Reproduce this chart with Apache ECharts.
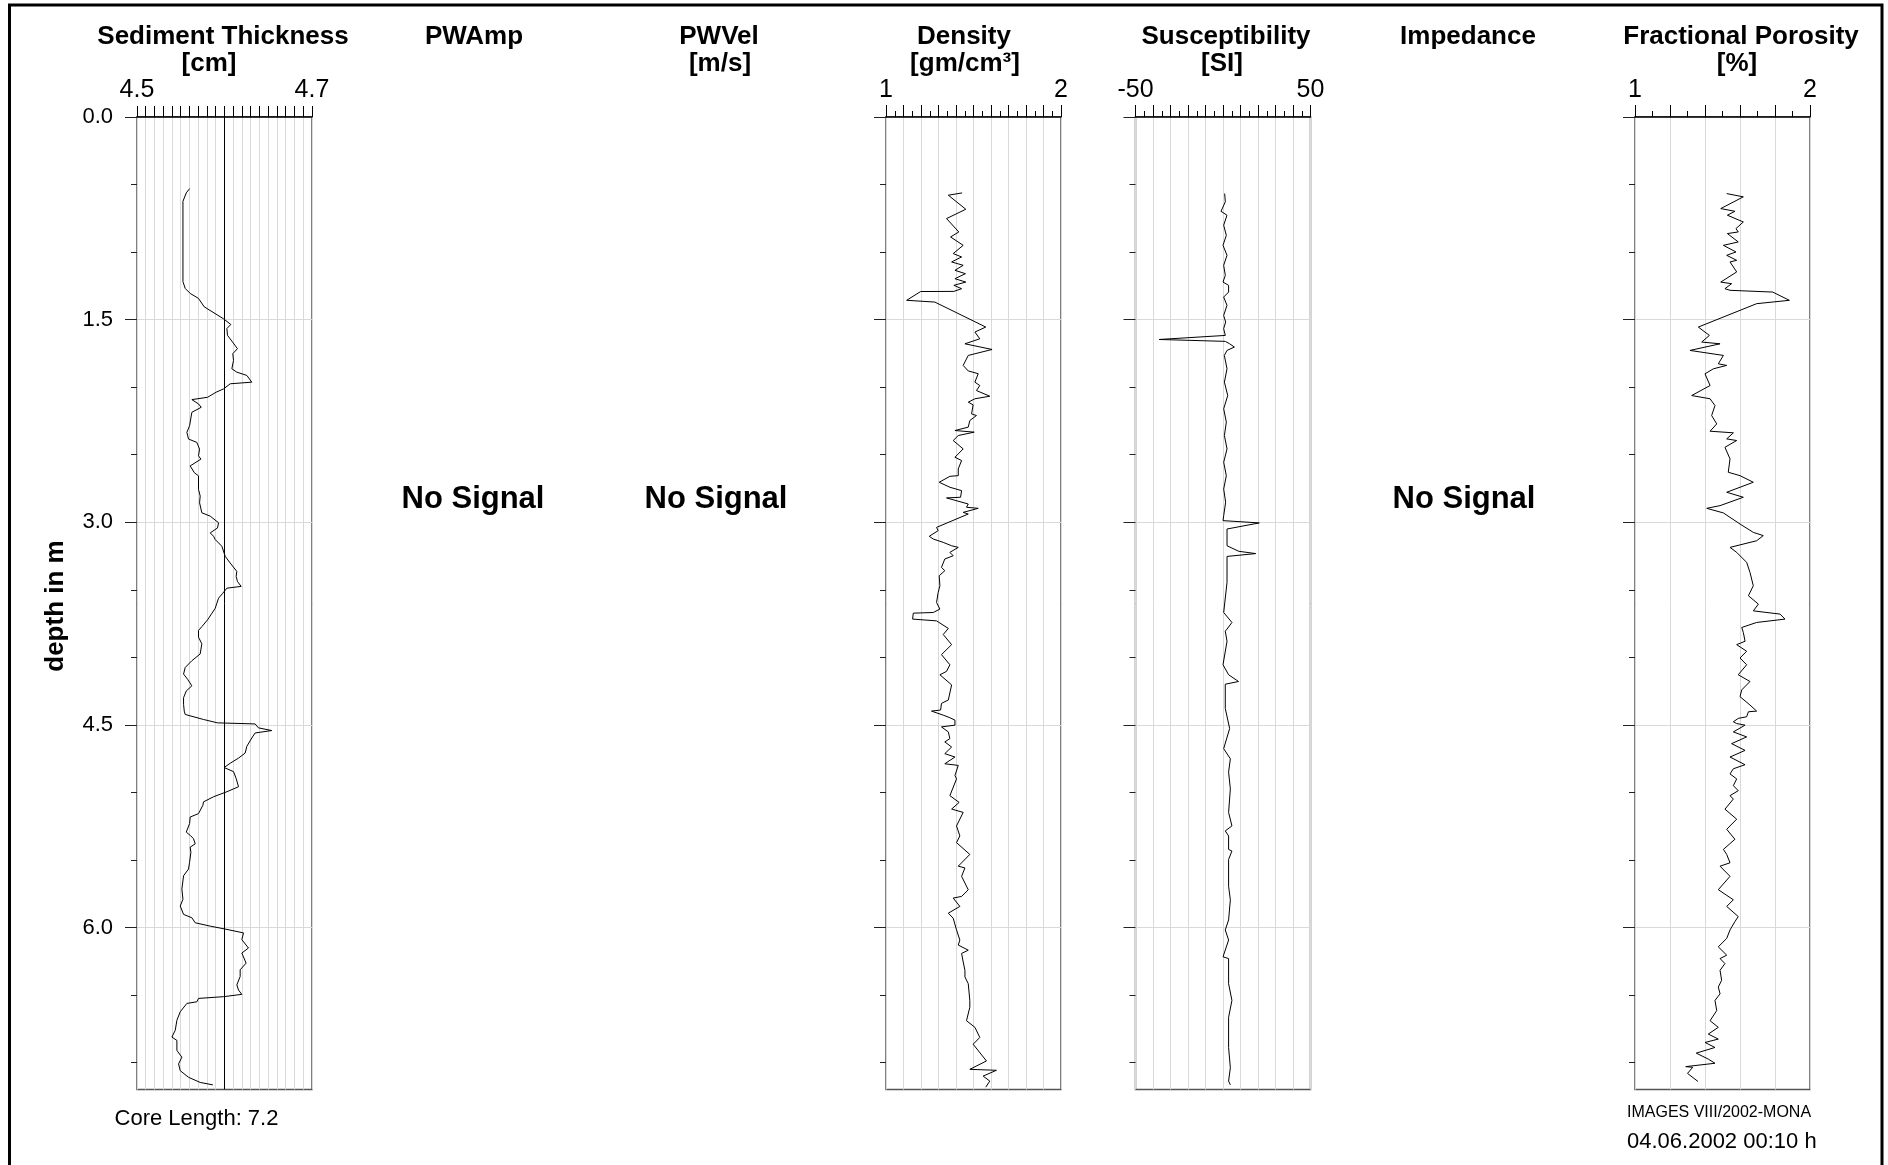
<!DOCTYPE html>
<html><head><meta charset="utf-8">
<script src="https://cdn.jsdelivr.net/npm/echarts@6/dist/echarts.min.js"></script>
<style>html,body{margin:0;padding:0;background:#fff}#c{width:1888px;height:1165px}</style>
</head><body><div id="c"></div>
<script>
// ---------------- data ----------------
const depthMin = 0, coreLength = 7.2;
const depthMajorTicks = [0, 1.5, 3, 4.5, 6];
const depthMinorTicks = [0.5, 1, 2, 2.5, 3.5, 4, 5, 5.5, 6.5, 7];

const sedTickValues = [4.5, 4.7];   const sedTickLabels = ['4.5', '4.7'];
const denTickValues = [1, 2];       const denTickLabels = ['1', '2'];
const susTickValues = [-50, 50];    const susTickLabels = ['-50', '50'];
const porTickValues = [1, 2];       const porTickLabels = ['1', '2'];

const sedDepth = [0.530,0.562,0.624,1.219,1.269,1.306,1.343,1.405,1.494,1.536,1.566,1.616,1.665,1.715,1.752,1.802,1.864,1.889,1.913,1.963,1.975,2.013,2.037,2.075,2.092,2.124,2.149,2.186,2.285,2.335,2.384,2.409,2.459,2.508,2.533,2.583,2.632,2.657,2.756,2.806,2.856,2.930,2.955,3.004,3.042,3.079,3.104,3.128,3.153,3.178,3.252,3.302,3.364,3.401,3.438,3.475,3.488,3.525,3.562,3.599,3.637,3.674,3.723,3.773,3.801,3.851,3.900,3.975,4.025,4.075,4.124,4.162,4.211,4.249,4.299,4.348,4.398,4.423,4.460,4.485,4.493,4.522,4.542,4.560,4.597,4.659,4.709,4.746,4.784,4.816,4.846,4.896,4.958,4.995,5.032,5.070,5.095,5.157,5.182,5.231,5.294,5.318,5.343,5.381,5.405,5.443,5.517,5.567,5.617,5.716,5.791,5.841,5.903,5.928,5.965,5.990,6.010,6.040,6.090,6.152,6.189,6.264,6.313,6.363,6.425,6.463,6.495,6.512,6.525,6.550,6.562,6.624,6.687,6.761,6.811,6.836,6.910,6.960,7.010,7.060,7.109,7.147,7.165];
const sedValue = [4.5601,4.5563,4.5525,4.5525,4.5551,4.5608,4.5703,4.5768,4.5989,4.6072,4.6027,4.6034,4.6091,4.6148,4.6095,4.6103,4.6084,4.6141,4.6255,4.6312,4.6065,4.5989,4.5905,4.5806,4.5627,4.5703,4.5734,4.5627,4.5601,4.5570,4.5589,4.5684,4.5715,4.5703,4.5730,4.5608,4.5654,4.5703,4.5703,4.5722,4.5715,4.5741,4.5837,4.5932,4.5920,4.5837,4.5875,4.5894,4.5932,4.5970,4.6008,4.6065,4.6141,4.6133,4.6148,4.6190,4.6027,4.5981,4.5932,4.5913,4.5894,4.5856,4.5806,4.5741,4.5703,4.5703,4.5741,4.5722,4.5627,4.5551,4.5532,4.5578,4.5627,4.5563,4.5532,4.5532,4.5540,4.5551,4.5760,4.5920,4.6350,4.6388,4.6540,4.6350,4.6312,4.6255,4.6236,4.6160,4.6065,4.5996,4.6103,4.6133,4.6160,4.6027,4.5875,4.5760,4.5753,4.5703,4.5608,4.5601,4.5563,4.5608,4.5646,4.5665,4.5608,4.5616,4.5601,4.5589,4.5532,4.5513,4.5525,4.5494,4.5532,4.5627,4.5665,4.5837,4.5996,4.6217,4.6198,4.6274,4.6198,4.6247,4.6179,4.6179,4.6141,4.6160,4.6198,4.5989,4.5703,4.5684,4.5570,4.5494,4.5456,4.5437,4.5399,4.5456,4.5456,4.5513,4.5475,4.5494,4.5589,4.5722,4.5867];

const denDepth = [0.562,0.579,0.683,0.752,0.851,0.888,0.950,1.011,1.036,1.073,1.098,1.135,1.160,1.197,1.222,1.246,1.271,1.291,1.292,1.357,1.370,1.555,1.592,1.642,1.679,1.721,1.765,1.839,1.880,1.900,1.963,1.988,2.025,2.067,2.086,2.111,2.131,2.198,2.210,2.247,2.296,2.321,2.333,2.358,2.395,2.457,2.519,2.543,2.605,2.655,2.660,2.704,2.741,2.766,2.815,2.820,2.865,2.889,2.897,2.927,2.939,3.038,3.062,3.104,3.124,3.149,3.174,3.186,3.223,3.248,3.272,3.334,3.359,3.396,3.470,3.520,3.594,3.643,3.668,3.673,3.717,3.730,3.786,3.831,3.906,3.980,4.055,4.104,4.129,4.204,4.316,4.341,4.390,4.398,4.428,4.447,4.457,4.465,4.502,4.515,4.552,4.602,4.626,4.664,4.713,4.738,4.788,4.800,4.875,4.900,5.024,5.074,5.123,5.148,5.248,5.322,5.372,5.459,5.546,5.559,5.621,5.721,5.770,5.782,5.844,5.894,5.931,6.018,6.093,6.130,6.168,6.192,6.255,6.317,6.366,6.416,6.540,6.590,6.690,6.739,6.814,6.864,6.988,7.050,7.057,7.100,7.137,7.182];
const denValue = [1.435,1.356,1.456,1.346,1.416,1.369,1.441,1.384,1.432,1.375,1.441,1.394,1.454,1.394,1.456,1.388,1.432,1.388,1.198,1.118,1.279,1.570,1.508,1.536,1.451,1.606,1.470,1.441,1.470,1.527,1.508,1.536,1.517,1.593,1.508,1.470,1.498,1.489,1.517,1.479,1.470,1.394,1.504,1.413,1.384,1.441,1.394,1.432,1.413,1.413,1.365,1.304,1.365,1.432,1.426,1.346,1.470,1.460,1.527,1.441,1.470,1.289,1.298,1.247,1.270,1.327,1.375,1.413,1.365,1.384,1.336,1.317,1.336,1.304,1.308,1.298,1.289,1.308,1.270,1.156,1.152,1.289,1.356,1.327,1.375,1.317,1.365,1.346,1.308,1.375,1.356,1.317,1.312,1.260,1.327,1.365,1.375,1.394,1.394,1.317,1.356,1.365,1.336,1.375,1.336,1.394,1.336,1.413,1.394,1.403,1.365,1.418,1.375,1.441,1.403,1.422,1.403,1.479,1.413,1.451,1.432,1.470,1.432,1.384,1.422,1.356,1.384,1.403,1.422,1.413,1.470,1.432,1.441,1.451,1.451,1.470,1.479,1.479,1.460,1.508,1.536,1.498,1.574,1.479,1.631,1.555,1.593,1.570];

const susDepth = [0.567,0.628,0.698,0.727,0.801,0.876,0.950,1.024,1.098,1.172,1.222,1.246,1.296,1.333,1.394,1.469,1.518,1.567,1.617,1.647,1.661,1.679,1.703,1.728,1.765,1.864,1.963,2.062,2.160,2.259,2.358,2.457,2.556,2.655,2.754,2.852,2.951,2.988,3.005,3.050,3.174,3.215,3.232,3.253,3.445,3.668,3.742,3.791,3.806,3.881,4.055,4.129,4.179,4.199,4.378,4.527,4.676,4.751,4.850,4.974,5.148,5.248,5.285,5.322,5.422,5.434,5.496,5.695,5.795,5.944,6.018,6.093,6.217,6.230,6.416,6.540,6.665,6.888,7.038,7.137,7.165];
const susValue = [0.95,1.33,-1.14,2.28,0.38,1.9,0,2.28,0.38,1.33,0,3.2,3.2,0.38,2.28,0.38,1.5,0.38,1.33,-36.5,1.33,3.8,6.5,2.28,0.76,2.3,0.8,2.7,0.4,1.9,0.8,2.3,0.4,1.9,0.4,1.5,0.4,0,20.7,2.3,2.3,9.0,18.7,2.3,2.3,0.4,5.1,2.3,1.3,2.3,0,3.2,8.9,1.3,1.3,3.8,0.4,4.2,3.2,4.2,3.2,5.1,1.3,3.2,3.2,5.1,3.2,3.2,4.2,3.2,1.3,3.2,0,3.2,3.2,5.1,3.2,3.2,4.2,3.2,4.2];

const porDepth = [0.567,0.591,0.678,0.698,0.727,0.777,0.826,0.851,0.863,0.925,0.950,0.999,1.024,1.061,1.073,1.147,1.222,1.234,1.271,1.283,1.296,1.357,1.382,1.555,1.617,1.666,1.679,1.728,1.765,1.827,1.839,1.864,1.901,1.988,2.062,2.086,2.136,2.210,2.272,2.326,2.338,2.383,2.395,2.445,2.531,2.630,2.655,2.704,2.778,2.815,2.877,2.897,2.931,3.013,3.075,3.099,3.137,3.186,3.223,3.297,3.371,3.470,3.544,3.606,3.656,3.680,3.717,3.742,3.779,3.816,3.881,3.906,3.955,4.005,4.055,4.129,4.179,4.241,4.291,4.353,4.398,4.403,4.440,4.452,4.477,4.490,4.502,4.515,4.552,4.589,4.639,4.689,4.738,4.795,4.825,4.863,4.900,4.950,4.987,5.024,5.049,5.124,5.198,5.273,5.347,5.422,5.459,5.521,5.546,5.621,5.720,5.795,5.844,5.919,5.956,6.018,6.081,6.143,6.205,6.230,6.267,6.317,6.391,6.441,6.491,6.540,6.615,6.690,6.739,6.789,6.826,6.851,6.888,6.930,6.975,7.005,7.030,7.035,7.080,7.140];
const porValue = [1.524,1.619,1.490,1.571,1.528,1.619,1.577,1.590,1.528,1.590,1.505,1.577,1.524,1.581,1.543,1.581,1.490,1.552,1.514,1.543,1.787,1.882,1.695,1.362,1.425,1.381,1.486,1.314,1.505,1.476,1.524,1.448,1.400,1.429,1.324,1.429,1.457,1.438,1.467,1.429,1.562,1.524,1.581,1.514,1.543,1.533,1.600,1.676,1.524,1.619,1.486,1.410,1.505,1.600,1.676,1.733,1.695,1.543,1.581,1.638,1.657,1.676,1.648,1.705,1.676,1.829,1.857,1.695,1.610,1.619,1.629,1.581,1.638,1.600,1.638,1.590,1.657,1.610,1.600,1.657,1.695,1.648,1.638,1.590,1.562,1.581,1.629,1.629,1.562,1.638,1.552,1.629,1.543,1.629,1.562,1.543,1.581,1.562,1.590,1.543,1.562,1.514,1.581,1.524,1.571,1.505,1.524,1.543,1.486,1.543,1.476,1.562,1.524,1.590,1.571,1.543,1.524,1.476,1.524,1.486,1.514,1.486,1.495,1.476,1.486,1.457,1.467,1.429,1.476,1.419,1.476,1.400,1.457,1.350,1.420,1.457,1.290,1.330,1.300,1.360];

const sedCentreLine = 4.6;

// ---------------- layout ----------------
const FONT = '"Liberation Sans", Arial, Helvetica, sans-serif';
const TOP = 117, HEIGHT = 972.6, W = 175;
const GRID_LINE = '#d9d9d9';

const panels = [
  {left: 137,   min: 4.5, max: 4.7, interval: 0.01, minor: 0, tickLen: 11, tv: sedTickValues, tl: sedTickLabels, depth: sedDepth, val: sedValue},
  {left: 886,   min: 1,   max: 2,   interval: 0.1,  minor: 2, tickLen: 12, tv: denTickValues, tl: denTickLabels, depth: denDepth, val: denValue},
  {left: 1135.5,min: -50, max: 50,  interval: 10,   minor: 2, tickLen: 12, tv: susTickValues, tl: susTickLabels, depth: susDepth, val: susValue},
  {left: 1635,  min: 1,   max: 2,   interval: 0.2,  minor: 2, tickLen: 12, tv: porTickValues, tl: porTickLabels, depth: porDepth, val: porValue}
];

const grid = [], xAxis = [], yAxis = [], series = [];
panels.forEach((p, i) => {
  grid.push({left: p.left, top: TOP, width: W, height: HEIGHT, show: true,
    borderColor: '#555', borderWidth: 1.5, backgroundColor: 'transparent', containLabel: false});
  xAxis.push({
    gridIndex: i, type: 'value', position: 'top', min: p.min, max: p.max, interval: p.interval,
    axisLine: {show: true, onZero: false, lineStyle: {color: '#000', width: 1.5}},
    axisTick: {show: true, inside: false, length: p.tickLen, lineStyle: {color: '#000', width: 1}},
    minorTick: {show: p.minor > 0, splitNumber: p.minor || 5, length: 6, lineStyle: {color: '#000', width: 1}},
    splitLine: {show: true, lineStyle: {color: GRID_LINE, width: 1}},
    minorSplitLine: {show: false},
    axisLabel: {show: true, customValues: p.tv, margin: 14, fontSize: 25, color: '#000', fontFamily: FONT,
      formatter: v => { const k = p.tv.findIndex(t => Math.abs(t - v) < 1e-9); return k >= 0 ? p.tl[k] : ''; }}
  });
  yAxis.push({
    gridIndex: i, type: 'value', position: 'left', inverse: true, min: depthMin, max: coreLength,
    axisLine: {show: false, onZero: false},
    axisTick: {show: true, customValues: depthMajorTicks, length: 12, lineStyle: {color: '#222', width: 1}},
    axisLabel: {show: i === 0, customValues: depthMajorTicks, margin: 24, fontSize: 22, color: '#000', fontFamily: FONT,
      formatter: v => v.toFixed(1)},
    splitLine: {show: true, lineStyle: {color: GRID_LINE, width: 1}}
  });
  yAxis.push({
    gridIndex: i, type: 'value', position: 'left', inverse: true, min: depthMin, max: coreLength,
    axisLine: {show: false, onZero: false},
    axisTick: {show: true, customValues: depthMinorTicks, length: 6, lineStyle: {color: '#222', width: 1}},
    axisLabel: {show: false},
    splitLine: {show: false}
  });
  const s = {
    type: 'line', xAxisIndex: i, yAxisIndex: 2 * i,
    data: p.depth.map((d, k) => [p.val[k], d]),
    showSymbol: false, symbol: 'none', silent: true, animation: false,
    lineStyle: {color: '#000', width: 1}
  };
  if (i === 0) {
    s.markLine = {silent: true, symbol: ['none', 'none'], label: {show: false}, animation: false,
      lineStyle: {color: '#000', type: 'solid', width: 1}, data: [{xAxis: sedCentreLine}]};
  }
  series.push(s);
});

function txt(text, x, y, size, bold, align) {
  return {type: 'text', silent: true, z: 10, style: {
    text, x, y, font: (bold ? 'bold ' : '') + size + 'px ' + FONT, fill: '#000',
    textAlign: align || 'center', textVerticalAlign: 'middle'}};
}

const L1 = 37, L2 = 64;
const graphic = [
  {type: 'rect', silent: true, z: 20, shape: {x: 9.5, y: 5, width: 1872.5, height: 1210},
    style: {fill: 'none', stroke: '#000', lineWidth: 3}},
  txt('Sediment Thickness', 223, L1, 26, true), txt('[cm]', 209, L2, 26, true),
  txt('PWAmp', 474, L1, 26, true),
  txt('PWVel', 719, L1, 26, true), txt('[m/s]', 720, L2, 26, true),
  txt('Density', 964, L1, 26, true), txt('[gm/cm³]', 965, L2, 26, true),
  txt('Susceptibility', 1226, L1, 26, true), txt('[SI]', 1222, L2, 26, true),
  txt('Impedance', 1468, L1, 26, true),
  txt('Fractional Porosity', 1741, L1, 26, true), txt('[%]', 1737, L2, 26, true),
  txt('No Signal', 473, 499.5, 31, true), txt('No Signal', 716, 499.5, 31, true), txt('No Signal', 1464, 499.5, 31, true),
  txt('Core Length: 7.2', 196.5, 1119, 22, false),
  txt('IMAGES VIII/2002-MONA', 1627, 1113, 16, false, 'left'),
  txt('04.06.2002 00:10 h', 1627, 1141.5, 22, false, 'left'),
  {type: 'text', silent: true, z: 10, x: 55.5, y: 606, rotation: Math.PI / 2,
    style: {text: 'depth in m', x: 0, y: 0, font: 'bold 26px ' + FONT, fill: '#000', textAlign: 'center', textVerticalAlign: 'middle'}}
];

const chart = echarts.init(document.getElementById('c'), null, {renderer: 'canvas'});
chart.setOption({animation: false, backgroundColor: '#fff', grid, xAxis, yAxis, series, graphic});
</script></body></html>
